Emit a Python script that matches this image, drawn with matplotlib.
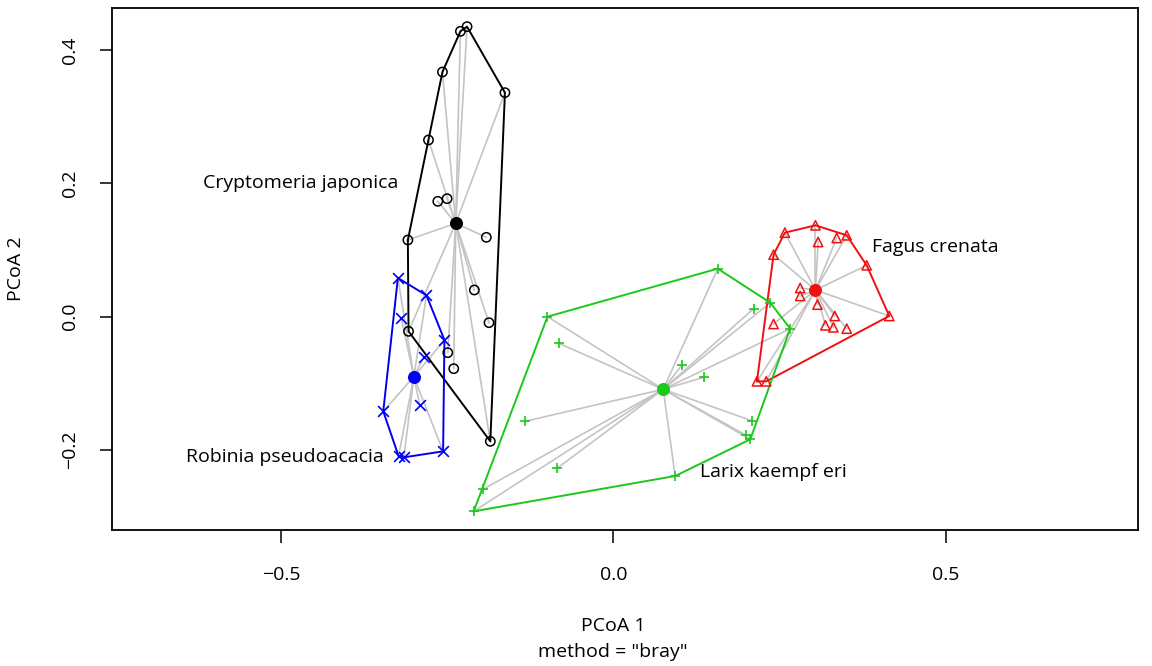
import matplotlib
matplotlib.use("Agg")
import matplotlib.pyplot as plt
import numpy as np

plt.rcParams['font.family'] = ['Open Sans', 'DejaVu Sans']

# ---- data ----
crypto_x = [-0.220, -0.230, -0.257, -0.163, -0.278, -0.250, -0.264, -0.191, -0.309,
            -0.209, -0.187, -0.308, -0.249, -0.240, -0.185]
crypto_y = [0.435, 0.428, 0.367, 0.336, 0.265, 0.177, 0.173, 0.119, 0.115,
            0.040, -0.009, -0.022, -0.054, -0.078, -0.187]
crypto_c = (-0.237, 0.140)

robinia_x = [-0.324, -0.281, -0.319, -0.254, -0.285, -0.291, -0.346, -0.323, -0.315, -0.256]
robinia_y = [0.058, 0.032, -0.002, -0.035, -0.060, -0.133, -0.142, -0.209, -0.211, -0.202]
robinia_c = (-0.300, -0.090)

fagus_x = [0.304, 0.258, 0.336, 0.351, 0.308, 0.241, 0.381, 0.281, 0.281, 0.307,
           0.415, 0.333, 0.319, 0.331, 0.351, 0.241, 0.216, 0.230]
fagus_y = [0.137, 0.126, 0.118, 0.122, 0.112, 0.093, 0.077, 0.043, 0.031, 0.018,
           0.001, 0.001, -0.013, -0.016, -0.018, -0.011, -0.097, -0.097]
fagus_c = (0.304, 0.040)

larix_x = [-0.099, -0.082, -0.133, -0.084, -0.196, -0.210, 0.157, 0.236, 0.211, 0.266,
           0.103, 0.136, 0.208, 0.200, 0.206, 0.093]
larix_y = [0.000, -0.040, -0.157, -0.227, -0.259, -0.292, 0.072, 0.021, 0.012, -0.018,
           -0.073, -0.091, -0.156, -0.178, -0.184, -0.239]
larix_c = (0.075, -0.109)

labels = ["Cryptomeria japonica", "Robinia pseudoacacia", "Fagus crenata", "Larix kaempf eri"]
label_pos = [(-0.323, 0.200), (-0.346, -0.210), (0.389, 0.104), (0.131, -0.233)]
label_ha = ["right", "right", "left", "left"]


def hull(px, py):
    pts = sorted(set(zip(px, py)))
    def cross(o, a, b):
        return (a[0]-o[0])*(b[1]-o[1]) - (a[1]-o[1])*(b[0]-o[0])
    lower, upper = [], []
    for p in pts:
        while len(lower) >= 2 and cross(lower[-2], lower[-1], p) <= 0:
            lower.pop()
        lower.append(p)
    for p in reversed(pts):
        while len(upper) >= 2 and cross(upper[-2], upper[-1], p) <= 0:
            upper.pop()
        upper.append(p)
    h = lower[:-1] + upper[:-1]
    h.append(h[0])
    return [p[0] for p in h], [p[1] for p in h]


groups = [
    (crypto_x, crypto_y, crypto_c, 'black', 'o'),
    (fagus_x, fagus_y, fagus_c, '#F01010', '^'),
    (larix_x, larix_y, larix_c, '#1CC81C', '+'),
    (robinia_x, robinia_y, robinia_c, '#0000F0', 'x'),
]

fig = plt.figure(figsize=(11.52, 6.66), dpi=100)
ax = fig.add_axes([0.0972, 0.2042, 0.8906, 0.7838])

for gx, gy, c, col, m in groups:
    for x, y in zip(gx, gy):
        ax.plot([c[0], x], [c[1], y], color='#C4C4C4', lw=1.2, zorder=1)
for gx, gy, c, col, m in groups:
    hx, hy = hull(gx, gy)
    ax.plot(hx, hy, color=col, lw=1.4, zorder=2)
for gx, gy, c, col, m in groups:
    if m in ('o', '^'):
        ax.scatter(gx, gy, marker=m, s=45, facecolors='none', edgecolors=col, linewidths=1.1, zorder=3)
    else:
        ax.scatter(gx, gy, marker=m, s=60, color=col, linewidths=1.2, zorder=3)
    ax.scatter([c[0]], [c[1]], marker='o', s=70, color=col, zorder=4)

for lab, (lx, ly), ha in zip(labels, label_pos, label_ha):
    ax.text(lx, ly, lab, ha=ha, va='center', fontsize=14)

ax.set_xlim(-0.754, 0.789)
ax.set_ylim(-0.32, 0.463)
ax.set_xticks([-0.5, 0.0, 0.5])
ax.set_xticklabels(['\u22120.5', '0.0', '0.5'])
ax.set_yticks([-0.2, 0.0, 0.2, 0.4])
ax.set_yticklabels(['\u22120.2', '0.0', '0.2', '0.4'], rotation=90, va='center')
ax.tick_params(axis='both', length=9, width=1.1, labelsize=14, pad=17)
ax.tick_params(axis='y', pad=15)
for s in ax.spines.values():
    s.set_linewidth(1.3)

fig.text(0.532, 1 - 626/666, 'PCoA 1', ha='center', va='center', fontsize=14)
fig.text(0.532, 1 - 652/666, 'method = "bray"', ha='center', va='center', fontsize=14)
fig.text(0.014, 1 - 269/666, 'PCoA 2', ha='center', va='center', rotation=90, fontsize=14)

fig.savefig('out.png', dpi=100)
